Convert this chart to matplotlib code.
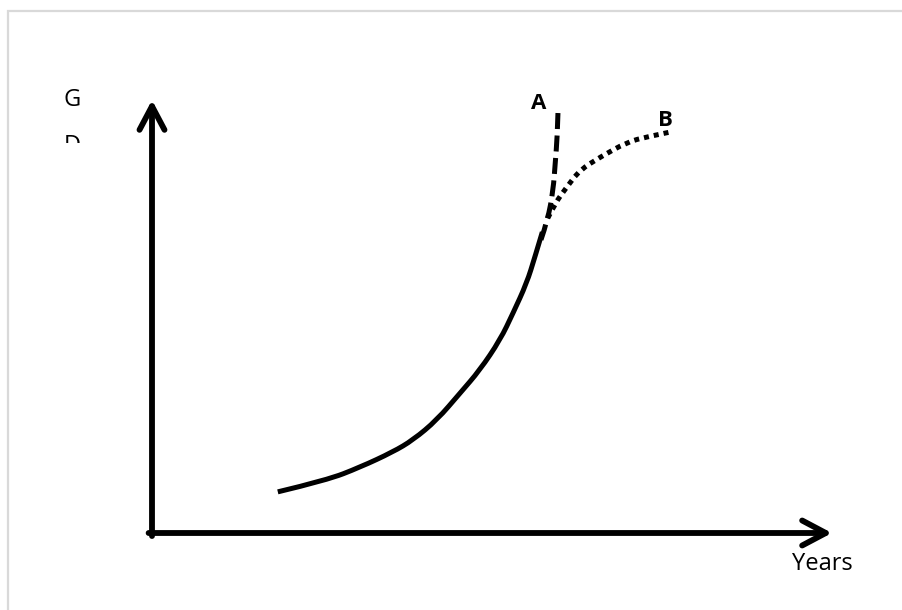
"""Sketch of GDP growth paths A and B over years."""

import matplotlib.pyplot as plt
from matplotlib.patches import PathPatch, Rectangle
from matplotlib.path import Path
from matplotlib.transforms import Bbox

# curve values (axis units: 0-10 on both axes)
base_years = [1.85, 2.57, 3.06, 3.54, 3.84, 4.19, 4.53, 4.82, 5.12, 5.31, 5.51, 5.63, 5.74]
base_gdp = [0.95, 1.22, 1.52, 1.87, 2.15, 2.61, 3.23, 3.76, 4.46, 5.08, 5.77, 6.37, 6.95]

path_a_years = [5.72, 5.82, 5.90, 5.93, 5.96, 5.97]
path_a_gdp = [6.77, 7.23, 7.92, 8.55, 9.15, 9.70]

path_b_years = [5.82, 5.93, 6.10, 6.29, 6.59, 6.99, 7.28, 7.62]
path_b_gdp = [7.27, 7.62, 7.99, 8.38, 8.68, 9.03, 9.15, 9.26]

labels = ["A", "B"]
label_years = [5.68, 7.55]
label_gdp = [9.93, 9.52]


def smooth_path(xs, ys):
    """Quadratic Bezier path through the midpoints, using the points as controls."""
    pts = list(zip(xs, ys))
    verts = [pts[0]]
    codes = [Path.MOVETO]
    for i in range(1, len(pts) - 1):
        mid = ((pts[i][0] + pts[i + 1][0]) / 2, (pts[i][1] + pts[i + 1][1]) / 2)
        if i == len(pts) - 2:
            mid = pts[-1]
        verts += [pts[i], mid]
        codes += [Path.CURVE3, Path.CURVE3]
    return Path(verts, codes)


W, H = 903, 610
fig = plt.figure(figsize=(W / 100, H / 100), dpi=100)

# light grey page frame, only top and left edges are visible
fig.patches.append(Rectangle((8 / W, -0.1), 1.5, 1 - 11 / H + 0.1, transform=fig.transFigure,
                             fill=False, edgecolor="#d9d9d9", lw=1.6))

# axes origin at the corner of the arrows
x0, y0 = 152, 533
ax = fig.add_axes([x0 / W, (H - y0) / H, (832 - x0) / W, (y0 - 100) / H])
ax.set_xlim(0, 10)
ax.set_ylim(0, 10)
ax.axis("off")

arrow = dict(arrowstyle="->,head_length=0.85,head_width=0.45", lw=4.2, color="black",
             mutation_scale=20, shrinkA=0, shrinkB=0, joinstyle="round", capstyle="round")
ax.annotate("", xy=(10, 0), xytext=(-0.05, 0), xycoords="data", arrowprops=arrow,
            annotation_clip=False)
ax.annotate("", xy=(0, 10), xytext=(0, -0.07), xycoords="data", arrowprops=arrow,
            annotation_clip=False)

styles = [
    (base_years, base_gdp, "solid"),
    (path_a_years, path_a_gdp, (0, (3.2, 1.3))),
    (path_b_years, path_b_gdp, (0, (1.0, 1.0))),
]
for xs, ys, ls in styles:
    ax.add_patch(PathPatch(smooth_path(xs, ys), fill=False, edgecolor="black", lw=3.6,
                           linestyle=ls, capstyle="butt", clip_on=False))

for lab, lx, ly in zip(labels, label_years, label_gdp):
    ax.text(lx, ly, lab, fontsize=16, fontweight="bold", ha="center", va="center",
            family="Open Sans", clip_on=False)

fig.text(822 / W, 1 - 564 / H, "Years", fontsize=17, ha="center", va="center",
         family="Open Sans")
fig.text(72 / W, 1 - 100 / H, "G", fontsize=17, ha="center", va="center", family="Open Sans")
d = fig.text(72 / W, 1 - 146 / H, "D", fontsize=17, ha="center", va="center",
             family="Open Sans")
d.set_clip_box(Bbox([[0, H - 143], [W, H]]))
d.set_clip_on(True)

fig.savefig("out.png", dpi=100)
